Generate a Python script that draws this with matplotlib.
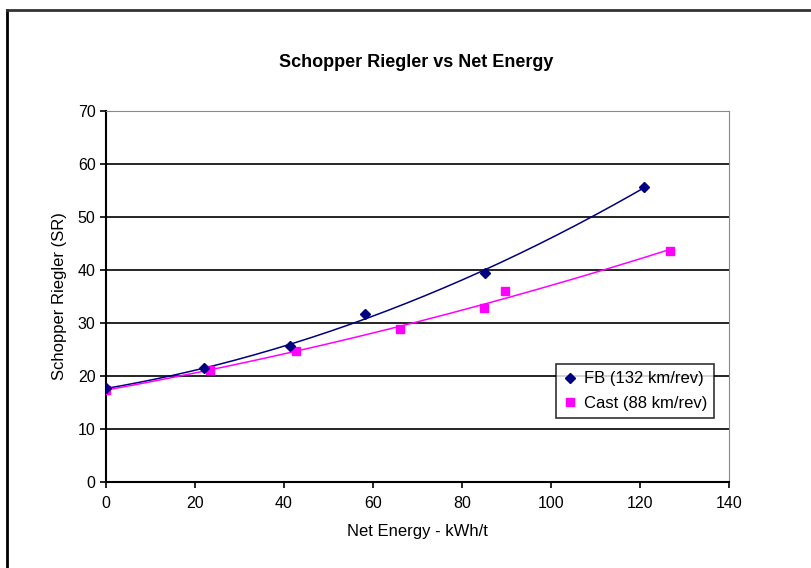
import numpy as np
import matplotlib
matplotlib.use("Agg")
import matplotlib.pyplot as plt
from matplotlib.lines import Line2D

plt.rcParams['font.family'] = ['Liberation Sans', 'DejaVu Sans']

# data
fb_energy = [0, 22, 41.3, 58.3, 85.2, 120.8]
fb_sr = [17.6, 21.4, 25.6, 31.6, 39.4, 55.6]
cast_energy = [0, 23.4, 42.8, 66.1, 85.0, 89.6, 126.8]
cast_sr = [17.4, 21.1, 24.6, 28.8, 32.8, 36.1, 43.6]

x_ticks = [0, 20, 40, 60, 80, 100, 120, 140]
y_ticks = [0, 10, 20, 30, 40, 50, 60, 70]

navy = "#000080"
magenta = "#FF00FF"

fig = plt.figure(figsize=(8.12, 5.68), dpi=100)
ax = fig.add_axes([0.1305, 0.152, 0.7673, 0.6526])

# Excel-style 2nd order polynomial trendlines
for xs, ys, col in [(fb_energy, fb_sr, navy), (cast_energy, cast_sr, magenta)]:
    coef = np.polyfit(xs, ys, 2)
    xx = np.linspace(min(xs), max(xs), 200)
    ax.plot(xx, np.polyval(coef, xx), color=col, lw=1.1, zorder=3)

ax.plot(cast_energy, cast_sr, ls="none", marker="s", ms=6, color=magenta, zorder=4)
ax.plot(fb_energy, fb_sr, ls="none", marker="D", ms=5.5, color=navy, zorder=5)

ax.set_xlim(0, 140)
ax.set_ylim(0, 70)
ax.set_xticks(x_ticks)
ax.set_yticks(y_ticks)
ax.tick_params(labelsize=11.5, direction="out", length=4, width=1.2, colors="black")
ax.tick_params(axis="x", pad=6)
ax.grid(axis="y", color="black", lw=1.2)
ax.set_axisbelow(True)

for s in ["left", "bottom"]:
    ax.spines[s].set_linewidth(1.5)
ax.spines["right"].set_color("#888888")
ax.spines["top"].set_color("#888888")

ax.set_xlabel("Net Energy - kWh/t", fontsize=12, labelpad=10)
ax.set_ylabel("Schopper Riegler (SR)", fontsize=12, labelpad=8)
fig.text(0.512, 0.89, "Schopper Riegler vs Net Energy", fontsize=13,
         fontweight="bold", ha="center", va="center")

handles = [
    Line2D([], [], ls="none", marker="D", ms=5, color=navy),
    Line2D([], [], ls="none", marker="s", ms=6, color=magenta),
]
leg = fig.legend(handles, ["FB (132 km/rev)", "Cast (88 km/rev)"],
                 loc="upper left", bbox_to_anchor=(556 / 812, 1 - 364 / 568),
                 fontsize=12, frameon=True, fancybox=False, edgecolor="black",
                 handlelength=0.8, handletextpad=0.4, borderpad=0.45,
                 labelspacing=0.55, borderaxespad=0)
leg.get_frame().set_linewidth(1.2)

# outer chart border (left and top edges visible)
fig.add_artist(Line2D([7 / 812, 7 / 812], [0, 1 - 10 / 568], color="black", lw=2,
                      transform=fig.transFigure))
fig.add_artist(Line2D([7 / 812, 1], [1 - 10 / 568, 1 - 10 / 568], color="#333333",
                      lw=2, transform=fig.transFigure))

fig.savefig("out.png", dpi=100)
